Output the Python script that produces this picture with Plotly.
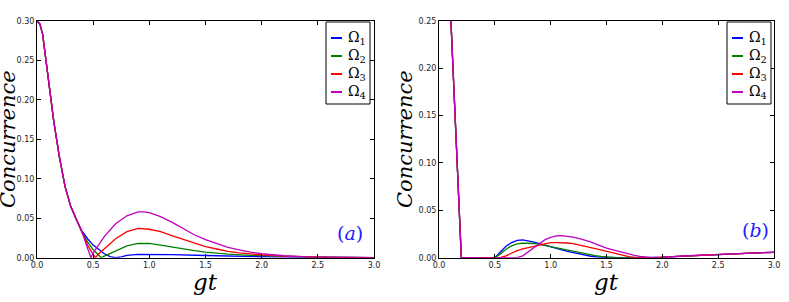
import numpy as np
import plotly.graph_objects as go

W, H = 789, 302

# ---------------- data ----------------
labels = ["Ω<sub>1</sub>", "Ω<sub>2</sub>", "Ω<sub>3</sub>", "Ω<sub>4</sub>"]
colors = ["#0000ff", "#008000", "#ff0000", "#bf00bf"]

# panel (a): common initial decay
a_t_common = [0.0, 0.025, 0.05, 0.1, 0.15, 0.2, 0.25, 0.3, 0.35]
a_c_common = [0.300, 0.296, 0.283, 0.228, 0.172, 0.127, 0.090, 0.065, 0.048]

a1_t = [0.4, 0.45, 0.5, 0.55, 0.6, 0.65, 0.7, 0.75, 0.8, 0.9, 1.0, 1.2, 1.5, 1.8, 2.1, 2.5, 3.0]
a1_c = [0.034, 0.024, 0.016, 0.010, 0.005, 0.0015, 0.0, 0.001, 0.003, 0.0043, 0.0043, 0.004, 0.0028, 0.0018, 0.001, 0.0005, 0.0]

a2_t = [0.4, 0.45, 0.5, 0.55, 0.57, 0.6, 0.7, 0.8, 0.9, 1.0, 1.1, 1.2, 1.3, 1.4, 1.5, 1.7, 1.9, 2.1, 2.4, 3.0]
a2_c = [0.032, 0.020, 0.010, 0.003, 0.0, 0.002, 0.009, 0.015, 0.018, 0.018, 0.016, 0.0135, 0.011, 0.009, 0.007, 0.0045, 0.003, 0.002, 0.001, 0.0]

a3_t = [0.4, 0.45, 0.5, 0.52, 0.55, 0.6, 0.7, 0.8, 0.9, 1.0, 1.1, 1.2, 1.3, 1.4, 1.5, 1.6, 1.7, 1.8, 1.9, 2.0, 2.2, 2.4, 2.6, 3.0]
a3_c = [0.031, 0.016, 0.004, 0.0, 0.005, 0.011, 0.024, 0.033, 0.037, 0.036, 0.033, 0.028, 0.023, 0.018, 0.014, 0.011, 0.008, 0.006, 0.0045, 0.0035, 0.002, 0.001, 0.0005, 0.0]

a4_t = [0.4, 0.45, 0.48, 0.5, 0.55, 0.6, 0.7, 0.8, 0.9, 0.95, 1.0, 1.1, 1.2, 1.3, 1.4, 1.5, 1.6, 1.7, 1.8, 1.9, 2.0, 2.2, 2.4, 2.6, 3.0]
a4_c = [0.033, 0.012, 0.0, 0.006, 0.017, 0.027, 0.043, 0.053, 0.058, 0.058, 0.057, 0.052, 0.045, 0.037, 0.029, 0.023, 0.018, 0.013, 0.010, 0.007, 0.005, 0.0025, 0.001, 0.0005, 0.0]

# panel (b)
b_t_common = [0.0, 0.1, 0.2, 0.3, 0.4, 0.5]
b_c_common = [0.300, 0.268, 0.0, 0.0, 0.0, 0.0]
b_t_tail = [2.1, 2.2, 2.3, 2.4, 2.5, 2.6, 2.7, 2.8, 2.9, 3.0]
b_c_tail = [0.0012, 0.0018, 0.0024, 0.003, 0.0036, 0.0042, 0.0047, 0.0051, 0.0054, 0.0056]

b1_t = [0.55, 0.6, 0.65, 0.7, 0.75, 0.8, 0.85, 0.9, 0.95, 1.0, 1.05, 1.1, 1.15, 1.2, 1.25, 1.3, 1.35, 1.4, 1.45, 1.5, 1.6, 1.7, 1.8, 1.9, 2.0]
b1_c = [0.006, 0.012, 0.016, 0.0182, 0.0187, 0.018, 0.0165, 0.0148, 0.013, 0.0113, 0.0098, 0.0082, 0.0067, 0.0053, 0.004, 0.0028, 0.0018, 0.001, 0.0004, 0.0, 0.0, 0.0, 0.0, 0.0, 0.0005]

b2_t = [0.55, 0.6, 0.65, 0.7, 0.75, 0.8, 0.85, 0.9, 0.95, 1.0, 1.05, 1.1, 1.15, 1.2, 1.25, 1.3, 1.35, 1.4, 1.45, 1.5, 1.55, 1.6, 1.7, 1.8, 1.9, 2.0]
b2_c = [0.004, 0.009, 0.0125, 0.0145, 0.0153, 0.0155, 0.015, 0.014, 0.0128, 0.0115, 0.0102, 0.0089, 0.0076, 0.0064, 0.0052, 0.0041, 0.0031, 0.0022, 0.0014, 0.0007, 0.0002, 0.0, 0.0, 0.0, 0.0, 0.0004]

b3_t = [0.55, 0.6, 0.65, 0.7, 0.75, 0.8, 0.85, 0.9, 0.95, 1.0, 1.05, 1.1, 1.15, 1.2, 1.25, 1.3, 1.35, 1.4, 1.45, 1.5, 1.55, 1.6, 1.65, 1.7, 1.75, 1.8, 1.9, 2.0]
b3_c = [0.0, 0.002, 0.005, 0.0075, 0.0092, 0.0105, 0.012, 0.0135, 0.015, 0.0158, 0.016, 0.016, 0.0155, 0.0148, 0.0137, 0.0124, 0.011, 0.0095, 0.008, 0.0065, 0.005, 0.0036, 0.0023, 0.0012, 0.0004, 0.0, 0.0, 0.0003]

b4_t = [0.6, 0.7, 0.75, 0.8, 0.85, 0.9, 0.95, 1.0, 1.05, 1.1, 1.15, 1.2, 1.25, 1.3, 1.35, 1.4, 1.45, 1.5, 1.55, 1.6, 1.65, 1.7, 1.75, 1.8, 1.85, 1.9, 2.0]
b4_c = [0.0, 0.0, 0.002, 0.0065, 0.011, 0.0155, 0.019, 0.0215, 0.023, 0.0233, 0.0228, 0.0217, 0.0203, 0.0187, 0.017, 0.0146, 0.0122, 0.0102, 0.0085, 0.0068, 0.0052, 0.0038, 0.0025, 0.0013, 0.0004, 0.0, 0.0002]

x_ticks = [0.0, 0.5, 1.0, 1.5, 2.0, 2.5, 3.0]
ya_ticks = [0.00, 0.05, 0.10, 0.15, 0.20, 0.25, 0.30]
yb_ticks = [0.00, 0.05, 0.10, 0.15, 0.20, 0.25]

panel_a = [(a1_t, a1_c), (a2_t, a2_c), (a3_t, a3_c), (a4_t, a4_c)]
panel_b = [(b1_t, b1_c), (b2_t, b2_c), (b3_t, b3_c), (b4_t, b4_c)]

# ---------------- figure ----------------
def px(x):
    return x / W

def py(y):
    return 1 - y / H

fig = go.Figure()

for i, (t, c) in enumerate(panel_a):
    fig.add_trace(go.Scatter(x=a_t_common + t, y=a_c_common + c, mode="lines",
                             line=dict(color=colors[i], width=1.3),
                             name=labels[i], xaxis="x", yaxis="y", showlegend=False))
for i, (t, c) in enumerate(panel_b):
    fig.add_trace(go.Scatter(x=b_t_common + t + b_t_tail, y=b_c_common + c + b_c_tail, mode="lines",
                             line=dict(color=colors[i], width=1.3),
                             name=labels[i], xaxis="x2", yaxis="y2", showlegend=False))

tickfont = dict(family="DejaVu Sans", size=8, color="#222")
common_axis = dict(showline=True, linecolor="black", linewidth=1, mirror="ticks",
                   ticks="inside", ticklen=4, tickcolor="black", showgrid=False,
                   zeroline=False, tickfont=tickfont, automargin=False)

ydom = [py(257.7), py(20.7)]
fig.update_layout(
    width=W, height=H,
    margin=dict(l=0, r=0, t=0, b=0, pad=0, autoexpand=False),
    paper_bgcolor="white", plot_bgcolor="white",
    xaxis=dict(domain=[px(37), px(374)], range=[0, 3], tickvals=x_ticks,
               tickformat=".1f", anchor="y", **common_axis),
    yaxis=dict(domain=ydom, range=[0, 0.30], tickvals=ya_ticks,
               tickformat=".2f", anchor="x", **common_axis),
    xaxis2=dict(domain=[px(439), px(774)], range=[0, 3], tickvals=x_ticks,
                tickformat=".1f", anchor="y2", **common_axis),
    yaxis2=dict(domain=ydom, range=[0, 0.25], tickvals=yb_ticks,
                tickformat=".2f", anchor="x2", **common_axis),
)

ann = []
shapes = []
title_font = dict(family="DejaVu Serif", size=23, color="black")
# axis titles
for cx in [(37 + 374) / 2, (439 + 774) / 2]:
    ann.append(dict(x=px(cx), y=py(282), xref="paper", yref="paper", text="<i>gt</i>",
                    showarrow=False, font=title_font, xanchor="center", yanchor="middle"))
for cx in [8, 405]:
    ann.append(dict(x=px(cx), y=py(139), xref="paper", yref="paper", text="<i>Concurrence</i>",
                    showarrow=False, font=dict(family="DejaVu Serif", size=21, color="black"),
                    textangle=-90, xanchor="center", yanchor="middle"))
# panel labels
for cx, cy, t in [(350, 233, "(<i>a</i>)"), (755, 230, "(<i>b</i>)")]:
    ann.append(dict(x=px(cx), y=py(cy), xref="paper", yref="paper", text=t,
                    showarrow=False, font=dict(family="DejaVu Serif", size=19, color="#2020ff"),
                    xanchor="center", yanchor="middle"))

# legends (one per panel)
rows = [38, 56, 74, 92]
for left in [326, 727]:
    shapes.append(dict(type="rect", xref="paper", yref="paper",
                       x0=px(left), x1=px(left + 44), y0=py(104), y1=py(22),
                       line=dict(color="black", width=1), fillcolor="white", layer="above"))
    for i, ry in enumerate(rows):
        shapes.append(dict(type="line", xref="paper", yref="paper",
                           x0=px(left + 5), x1=px(left + 16), y0=py(ry), y1=py(ry),
                           line=dict(color=colors[i], width=2), layer="above"))
        ann.append(dict(x=px(left + 20), y=py(ry), xref="paper", yref="paper", text=labels[i],
                        showarrow=False, font=dict(family="DejaVu Serif", size=14, color="black"),
                        xanchor="left", yanchor="middle"))

fig.update_layout(annotations=ann, shapes=shapes)
fig.write_html("out.html", config={"displayModeBar": False},
               post_script="document.body.style.margin='0';document.body.style.overflow='hidden';")
